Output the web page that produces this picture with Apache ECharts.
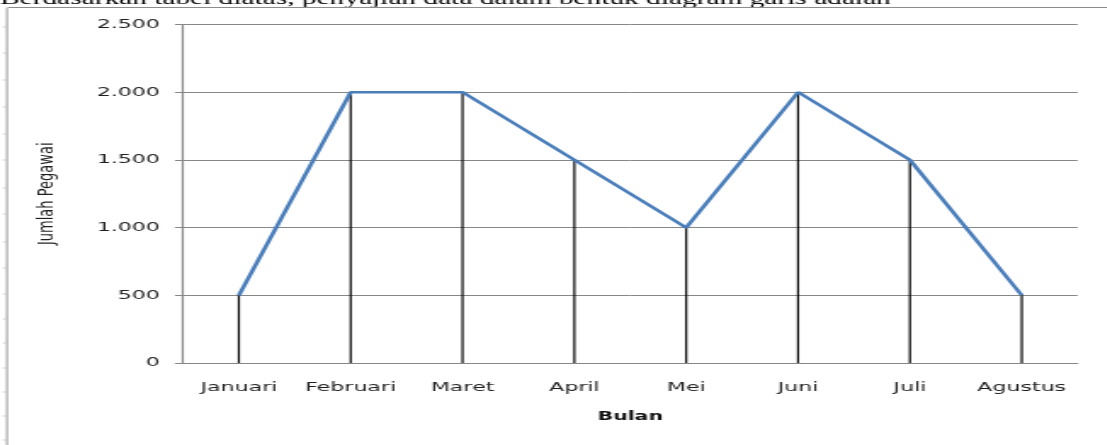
<!DOCTYPE html>
<html>
<head>
<meta charset="utf-8">
<script src="https://cdn.jsdelivr.net/npm/echarts@6/dist/echarts.min.js"></script>
<style>
  html, body { margin: 0; padding: 0; background: #fff; overflow: hidden; }
  /* the source picture is a horizontally stretched screenshot, so draw narrow and stretch */
  #chart { width: 651.2px; height: 445px; transform: scaleX(1.7); transform-origin: 0 0; }
</style>
</head>
<body>
<div id="chart"></div>
<script>
  // data
  const months = ['Januari', 'Februari', 'Maret', 'April', 'Mei', 'Juni', 'Juli', 'Agustus']
  const pegawai = [500, 2000, 2000, 1500, 1000, 2000, 1500, 500]
  const yTicks = ['0', '500', '1.000', '1.500', '2.000', '2.500']

  const textColor = '#1f1f1f'
  const axisGray = '#878787'
  const font = 'DejaVu Sans'

  // little ruler marks on the left edge of the page
  const rulerMarks = [27, 53, 80, 107, 134, 160, 188, 214, 242, 268, 294, 319, 343, 368, 392, 416, 440]

  const chart = echarts.init(document.getElementById('chart'))

  const option = {
    animation: false,
    grid: { left: 107.6, right: 17.1, top: 24.5, bottom: 82 },
    xAxis: {
      type: 'category',
      data: months,
      boundaryGap: true,
      name: 'Bulan',
      nameLocation: 'middle',
      nameGap: 48,
      nameTextStyle: { fontFamily: font, fontSize: 12, fontWeight: 'bold', color: '#111' },
      axisLine: { show: true, lineStyle: { color: axisGray, width: 1 } },
      axisTick: { show: false },
      axisLabel: { interval: 0, hideOverlap: false, margin: 18, fontFamily: font, fontSize: 13, color: textColor },
      splitLine: { show: false }
    },
    yAxis: {
      type: 'value',
      min: 0,
      max: 2500,
      interval: 500,
      name: 'Jumlah Pegawai',
      nameLocation: 'middle',
      nameGap: 73,
      nameRotate: 90,
      nameTextStyle: { fontFamily: font, fontSize: 13, color: textColor },
      axisLine: { show: true, lineStyle: { color: axisGray, width: 1.2 } },
      axisTick: { show: true, length: 4.7, lineStyle: { color: axisGray, width: 1 } },
      axisLabel: {
        margin: 13.5,
        fontFamily: font,
        fontSize: 13,
        color: textColor,
        formatter: (v) => yTicks[Math.round(v / 500)]
      },
      splitLine: { show: true, lineStyle: { color: axisGray, width: 1 } }
    },
    series: [
      {
        // black drop lines under each point
        type: 'bar',
        data: pegawai,
        barWidth: 1.2,
        itemStyle: { color: '#000' },
        silent: true,
        z: 1
      },
      {
        type: 'line',
        data: pegawai,
        showSymbol: false,
        symbol: 'none',
        lineStyle: { color: '#4a7ebb', width: 2.6 },
        z: 3
      }
    ],
    graphic: [
      {
        type: 'text',
        left: 0,
        top: -9,
        style: {
          text: 'Berdasarkan tabel diatas, penyajian data dalam bentuk diagram garis adalah',
          font: '17.3px "Liberation Serif"',
          fill: '#000'
        }
      },
      {
        type: 'line',
        shape: { x1: 4.7, y1: 7.5, x2: 652, y2: 7.5 },
        style: { stroke: '#8c8c8c', lineWidth: 1 }
      },
      {
        type: 'line',
        shape: { x1: 4.1, y1: 7.5, x2: 4.1, y2: 445 },
        style: { stroke: '#a6a6a6', lineWidth: 1.2 }
      },
      ...rulerMarks.map((y) => ({
        type: 'line',
        shape: { x1: 1.8, y1: y, x2: 3.4, y2: y },
        style: { stroke: '#c3c7d0', lineWidth: 1 }
      }))
    ]
  }

  chart.setOption(option)
</script>
</body>
</html>
